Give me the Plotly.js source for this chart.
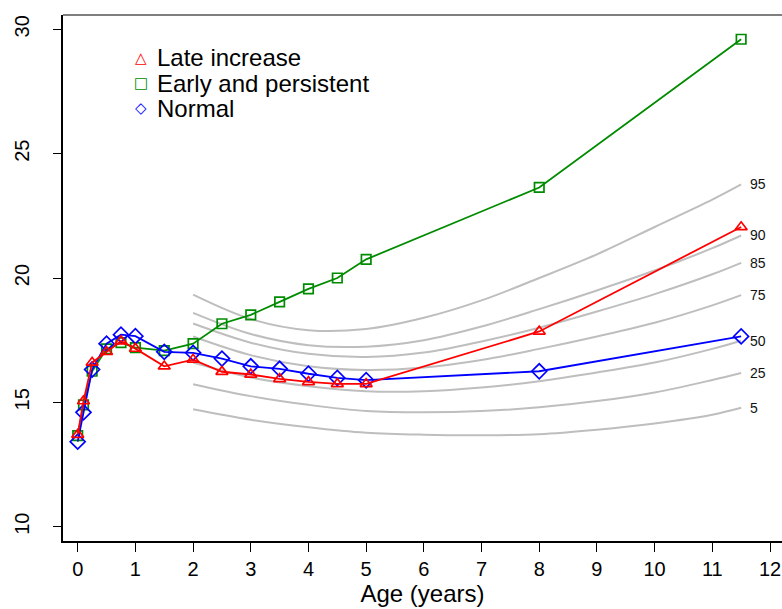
<!DOCTYPE html>
<html>
<head>
<meta charset="utf-8">
<script src="https://cdn.plot.ly/plotly-3.0.1.min.js"></script>
<style>
html,body{margin:0;padding:0;overflow:hidden;background:#fff;}
#chart{width:782px;height:609px;}
</style>
</head>
<body>
<div id="chart"></div>
<script>
// Group trajectories (BMI by age)
var ages = [0, 0.1, 0.25, 0.5, 0.75, 1, 1.5, 2, 2.5, 3, 3.5, 4, 4.5, 5, 8, 11.5];
var lateIncrease = [13.7, 15.05, 16.6, 17.03, 17.46, 17.16, 16.45, 16.72, 16.23, 16.12, 15.94, 15.82, 15.74, 15.74, 17.85, 22.05];
var earlyPersistent = [13.66, 14.9, 16.25, 17.15, 17.4, 17.2, 17.08, 17.36, 18.16, 18.52, 19.04, 19.56, 20.0, 20.75, 23.64, 29.6];
var normal = [13.42, 14.6, 16.32, 17.36, 17.72, 17.66, 17.03, 16.99, 16.76, 16.45, 16.35, 16.15, 15.98, 15.89, 16.25, 17.65];

// Reference percentile curves
var refAges = [2, 3, 4, 5, 6, 7, 8, 9, 10, 11, 11.5];
var pctLabels = ["95", "90", "85", "75", "50", "25", "5"];
var p95 = [19.33, 18.35, 17.9, 17.95, 18.4, 19.1, 20.0, 20.95, 22.05, 23.15, 23.76];
var p90 = [18.6, 17.75, 17.3, 17.24, 17.5, 18.05, 18.75, 19.5, 20.3, 21.2, 21.71];
var p85 = [18.17, 17.4, 16.95, 16.82, 17.0, 17.45, 18.0, 18.65, 19.35, 20.15, 20.61];
var p75 = [17.65, 16.9, 16.45, 16.3, 16.4, 16.7, 17.15, 17.65, 18.2, 18.9, 19.31];
var p50 = [16.6, 16.0, 15.65, 15.45, 15.45, 15.6, 15.85, 16.2, 16.6, 17.15, 17.48];
var p25 = [15.73, 15.25, 14.9, 14.65, 14.6, 14.65, 14.8, 15.05, 15.4, 15.9, 16.18];
var p5 = [14.72, 14.3, 14.0, 13.78, 13.7, 13.68, 13.72, 13.9, 14.15, 14.5, 14.78];
var pctSeries = [p95, p90, p85, p75, p50, p25, p5];

var xTicks = [0,1,2,3,4,5,6,7,8,9,10,11,12];
var yTicks = [10,15,20,25,30];
var legendNames = ["Late increase", "Early and persistent", "Normal"];
var legendGlyphs = ["\u25B3", "\u25A1", "\u25C7"];
var colors = ["#FF0000", "#008B00", "#0000FF"];

var FONT = "Liberation Sans, Arial, sans-serif";
var traces = [];
pctSeries.forEach(function (s, i) {
  traces.push({x: refAges, y: s, mode: "lines", type: "scatter",
    line: {color: "#BEBEBE", width: 2, shape: "spline", smoothing: 1},
    hoverinfo: "skip", showlegend: false, name: pctLabels[i]});
});
traces.push({x: ages, y: earlyPersistent, mode: "lines+markers", type: "scatter", name: legendNames[1],
  line: {color: colors[1], width: 1.8},
  marker: {symbol: "square-open", size: 9.5, color: colors[1], line: {width: 1.7, color: colors[1]}}, showlegend: false});
traces.push({x: ages, y: normal, mode: "lines+markers", type: "scatter", name: legendNames[2],
  line: {color: colors[2], width: 1.8},
  marker: {symbol: "diamond-open", size: 11.5, color: colors[2], line: {width: 1.7, color: colors[2]}}, showlegend: false});
traces.push({x: ages, y: lateIncrease, mode: "lines+markers", type: "scatter", name: legendNames[0],
  line: {color: colors[0], width: 1.8},
  marker: {symbol: "triangle-up-open", size: 10.5, color: colors[0], line: {width: 1.7, color: colors[0]}}, showlegend: false});

var L = 63, R = 0, T = 15, B = 68, W = 782, H = 609;
var pw = W - L - R, ph = H - T - B;
function px(x) { return (x - L) / pw; }
function py(y) { return 1 - (y - T) / ph; }

var annotations = [];
pctSeries.forEach(function (s, i) {
  annotations.push({x: 11.62, y: s[s.length - 1], xref: "x", yref: "y", text: pctLabels[i],
    showarrow: false, xanchor: "left", yanchor: "middle",
    font: {family: FONT, size: 14, color: "#111"}});
});
legendNames.forEach(function (n, i) {
  var yy = 58 + i * 25;
  annotations.push({x: px(141), y: py(yy), xref: "paper", yref: "paper", text: legendGlyphs[i],
    showarrow: false, xanchor: "center", yanchor: "middle",
    font: {family: "DejaVu Sans", size: 15, color: colors[i]}});
  annotations.push({x: px(155), y: py(yy), xref: "paper", yref: "paper", text: n,
    showarrow: false, xanchor: "left", yanchor: "middle",
    font: {family: FONT, size: 24, color: "#000"}});
});

var layout = {
  width: W, height: H,
  margin: {l: L, r: R, t: T, b: B, pad: 0},
  paper_bgcolor: "#fff", plot_bgcolor: "#fff",
  showlegend: false,
  xaxis: {range: [-0.255, 12.208], tickvals: xTicks, ticktext: xTicks.map(String),
    showgrid: false, zeroline: false, showline: true, linecolor: "#000", linewidth: 2,
    ticks: "outside", ticklen: 9, tickwidth: 1, tickcolor: "#000",
    tickfont: {family: FONT, size: 20, color: "#000"},
    title: {text: "Age (years)", font: {family: FONT, size: 24, color: "#000"}, standoff: 6}},
  yaxis: {range: [9.425, 30.575], tickvals: yTicks, ticktext: yTicks.map(String),
    showgrid: false, zeroline: false, showline: true, linecolor: "#000", linewidth: 2,
    ticks: "outside", ticklen: 8, tickwidth: 1, tickcolor: "#000", tickangle: -90,
    ticklabelstandoff: 16,
    tickfont: {family: FONT, size: 20, color: "#000"}},
  shapes: [{type: "line", xref: "paper", yref: "paper", x0: 0, x1: 1, y0: 1, y1: 1,
    line: {color: "#555", width: 1.5}}],
  annotations: annotations
};

Plotly.newPlot("chart", traces, layout, {displayModeBar: false, staticPlot: true});
</script>
</body>
</html>
